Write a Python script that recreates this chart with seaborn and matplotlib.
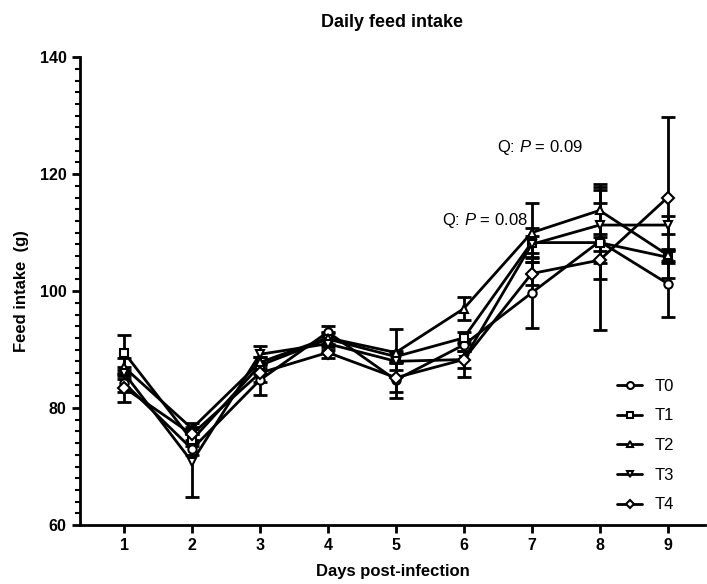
import numpy as np
import pandas as pd
import matplotlib
matplotlib.use("Agg")
import matplotlib.pyplot as plt
from matplotlib.ticker import MultipleLocator
import seaborn as sns

days = [1, 2, 3, 4, 5, 6, 7, 8, 9]
groups = ["T0", "T1", "T2", "T3", "T4"]

T0 = [84.3, 73.0, 84.8, 93.0, 84.8, 90.8, 99.7, 108.5, 101.3]
T1 = [89.5, 74.5, 87.3, 91.8, 88.8, 92.0, 108.3, 108.3, 105.8]
T2 = [87.0, 76.5, 87.8, 92.0, 89.5, 97.0, 110.0, 113.8, 106.2]
T3 = [86.0, 70.8, 89.2, 91.0, 88.0, 88.3, 108.0, 111.3, 111.3]
T4 = [83.5, 75.5, 86.0, 89.5, 85.2, 88.3, 103.0, 105.3, 116.0]

T0_err = [1.5, 1.0, 2.5, 1.0, 3.0, 1.0, 6.0, 6.5, 5.7]
T1_err = [3.0, 1.0, 1.5, 1.0, 1.0, 1.0, 2.5, 1.5, 1.0]
T2_err = [1.5, 1.0, 1.0, 1.0, 4.0, 2.0, 5.0, 4.5, 1.0]
T3_err = [1.0, 6.0, 1.5, 1.0, 1.5, 1.5, 1.5, 6.5, 1.5]
T4_err = [2.5, 1.0, 1.5, 1.0, 2.5, 3.0, 2.0, 12.0, 13.8]

means = [T0, T1, T2, T3, T4]
errs = [T0_err, T1_err, T2_err, T3_err, T4_err]
marker_map = {"T0": "o", "T1": "s", "T2": "^", "T3": "v", "T4": "D"}

df = pd.DataFrame({
    "day": np.tile(days, len(groups)),
    "intake": np.concatenate(means),
    "err": np.concatenate(errs),
    "group": np.repeat(groups, len(days)),
})

sns.set_theme(style="ticks")
plt.rcParams["font.family"] = ["Liberation Sans", "DejaVu Sans"]
plt.rcParams["mathtext.fontset"] = "custom"
plt.rcParams["mathtext.it"] = "Liberation Sans:italic"
plt.rcParams["mathtext.rm"] = "Liberation Sans"
for key in ["text.color", "axes.labelcolor", "xtick.color", "ytick.color"]:
    plt.rcParams[key] = "black"

fig = plt.figure(figsize=(7.07, 5.84), dpi=100)
ax = fig.add_axes([0.113, 0.101, 0.884, 0.801])

for g in groups:
    sub = df[df["group"] == g]
    ax.errorbar(sub["day"], sub["intake"], yerr=sub["err"], fmt="none",
                ecolor="black", elinewidth=2, capsize=5, capthick=2, zorder=2)

sns.lineplot(data=df, x="day", y="intake", style="group", markers=marker_map,
             dashes=False, color="black", linewidth=2, markersize=6,
             markerfacecolor="white", markeredgecolor="black",
             markeredgewidth=1.5, ax=ax, legend=False, zorder=3)

# legend entries
handles = [plt.Line2D([], [], color="black", linewidth=2, marker=marker_map[g],
                      markersize=5 if g != "T4" else 4.5, markerfacecolor="white",
                      markeredgecolor="black", markeredgewidth=1.5)
           for g in groups]
ax.legend(handles, groups, loc="lower right", bbox_to_anchor=(0.975, -0.005),
          frameon=False, fontsize=12, handlelength=1.5, labelspacing=0.88,
          handletextpad=0.75)

ax.set_xlim(0.35, 9.55)
ax.set_ylim(60, 140)
ax.set_xticks(days)
ax.yaxis.set_major_locator(MultipleLocator(20))
ax.yaxis.set_minor_locator(MultipleLocator(2))
ax.tick_params(axis="both", which="major", direction="out", length=6, width=2,
               labelsize=11.5, color="black", labelcolor="black")
ax.tick_params(axis="y", which="minor", direction="out", length=3.5, width=1.5,
               color="black")
for lab in ax.get_xticklabels() + ax.get_yticklabels():
    lab.set_fontweight("bold")

sns.despine(ax=ax)
for side in ["left", "bottom"]:
    ax.spines[side].set_linewidth(2)
    ax.spines[side].set_color("black")

ax.set_xlabel("Days post-infection", fontsize=12, fontweight="bold", labelpad=8)
ax.set_ylabel("Feed intake  (g)", fontsize=12, fontweight="bold", labelpad=8)
ax.set_title("Daily feed intake", fontsize=13, fontweight="bold", pad=22)

ax.text(7.75, 124.6, r"Q: $P$ = 0.09", fontsize=12, ha="right", va="center")
ax.text(6.95, 112.1, r"Q: $P$ = 0.08", fontsize=12, ha="right", va="center")

fig.savefig("out.png", dpi=100)
